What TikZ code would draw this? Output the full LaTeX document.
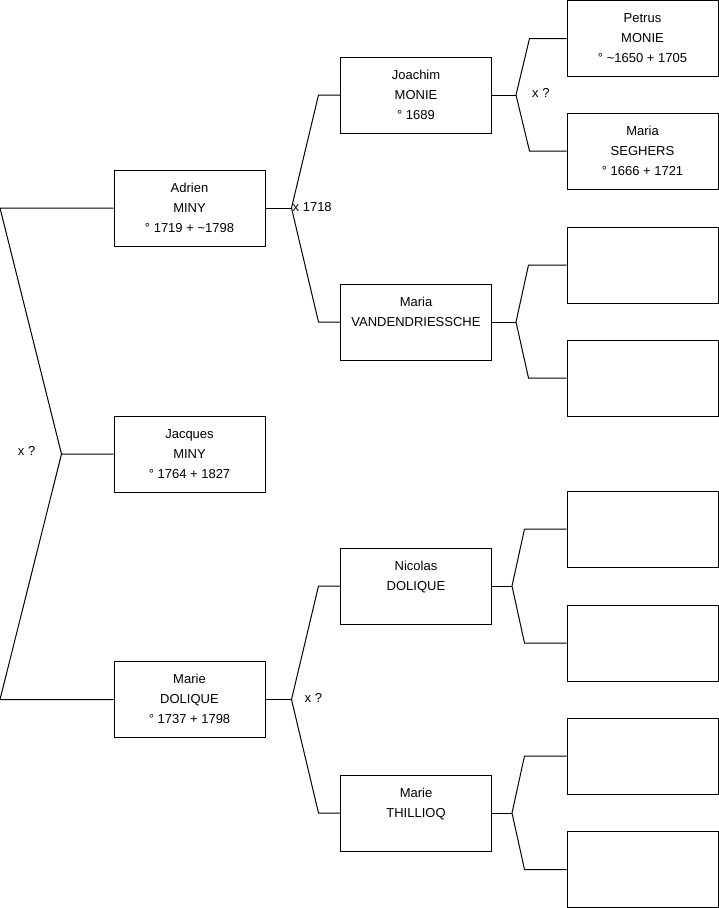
\documentclass[tikz,border=0pt]{standalone}
\usepackage{fontspec}
\setmainfont{Liberation Sans}
\usetikzlibrary{calc}
\newcommand{\who}[3]{\strut#1\\\strut#2\\\strut#3}
\tikzset{
  person/.style={draw, line width=1pt, minimum width=151pt, minimum height=76pt,
    inner sep=0pt, align=center, font=\fontsize{13}{20}\selectfont},
  link/.style={line width=1pt},
  union/.style={inner sep=0pt, font=\fontsize{13}{20}\selectfont}
}

\begin{document}
\begin{tikzpicture}[x=1pt, y=-1pt]
    \useasboundingbox (0,0) rectangle (719,908);
    % First column
    \node[person] (adrien) at (189.5,208) {\who{Adrien}{MINY}{° 1719 + \textasciitilde1798}};
    \node[person] (jacques) at (189.5,454) {\who{Jacques}{MINY}{° 1764 + 1827}};
    \node[person] (marie) at (189.5,699.5) {\who{Marie}{DOLIQUE}{° 1737 + 1798}};
    % Parents
    \node[person] (joachim) at (416,95) {\who{Joachim}{MONIE}{° 1689}};
    \node[person] (mariav) at (416,322) {\who{Maria}{VANDENDRIESSCHE}{}};
    \node[person] (nicolas) at (416,586) {\who{Nicolas}{DOLIQUE}{}};
    \node[person] (thillioq) at (416,813) {\who{Marie}{THILLIOQ}{}};
    % Grandparents
    \node[person] (petrus) at (642.5,38.5) {\who{Petrus}{MONIE}{° \textasciitilde1650 + 1705}};
    \node[person] (seghers) at (642.5,151) {\who{Maria}{SEGHERS}{° 1666 + 1721}};
    \node[person] (empty1) at (642.5,265) {};
    \node[person] (empty2) at (642.5,378) {};
    \node[person] (empty3) at (642.5,529) {};
    \node[person] (empty4) at (642.5,643) {};
    \node[person] (empty5) at (642.5,756) {};
    \node[person] (empty6) at (642.5,869.5) {};
    % Couple Adrien x Marie
    \coordinate (kidA) at ($(jacques.west)+(-52,0)$);
    \draw[link] (adrien.west) -- ++(-113.5,0) -- (kidA) -- (jacques.west);
    \draw[link] (marie.west) -- ++(-113.5,0) -- (kidA);
    \node[union, anchor=east] (wedA) at ($(kidA)+(-26,-3)$) {x ?};
    % Couple Joachim x Maria
    \draw[link] (adrien.east) -- ++(26,0) coordinate (kidB);
    \draw[link] (joachim.west) -- ++(-21.5,0) -- (kidB) -- ($(mariav.west)+(-21.5,0)$) -- (mariav.west);
    \node[union, anchor=west] (wedB) at ($(kidB)+(1,-1)$) {x 1718};
    % Couple Nicolas x Marie
    \draw[link] (marie.east) -- ++(26,0) coordinate (kidC);
    \draw[link] (nicolas.west) -- ++(-21.5,0) -- (kidC) -- ($(thillioq.west)+(-21.5,0)$) -- (thillioq.west);
    \node[union, anchor=west] (wedC) at ($(kidC)+(13,-2)$) {x ?};
    % Couple Petrus x Maria
    \draw[link] (joachim.east) -- ++(24,0) coordinate (kidD);
    \draw[link] (petrus.west) -- ++(-37,0) -- (kidD) -- ($(seghers.west)+(-37,0)$) -- (seghers.west);
    \node[union, anchor=west] (wedD) at ($(kidD)+(16,-2)$) {x ?};
    % Unknown parents
    \draw[link] (mariav.east) -- ++(24,0) coordinate (kidE);
    \draw[link] (empty1.west) -- ++(-38,0) -- (kidE) -- ($(empty2.west)+(-38,0)$) -- (empty2.west);
    \draw[link] (nicolas.east) -- ++(20,0) coordinate (kidF);
    \draw[link] (empty3.west) -- ++(-42,0) -- (kidF) -- ($(empty4.west)+(-42,0)$) -- (empty4.west);
    \draw[link] (thillioq.east) -- ++(20,0) coordinate (kidG);
    \draw[link] (empty5.west) -- ++(-42,0) -- (kidG) -- ($(empty6.west)+(-42,0)$) -- (empty6.west);
\end{tikzpicture}
\end{document}
